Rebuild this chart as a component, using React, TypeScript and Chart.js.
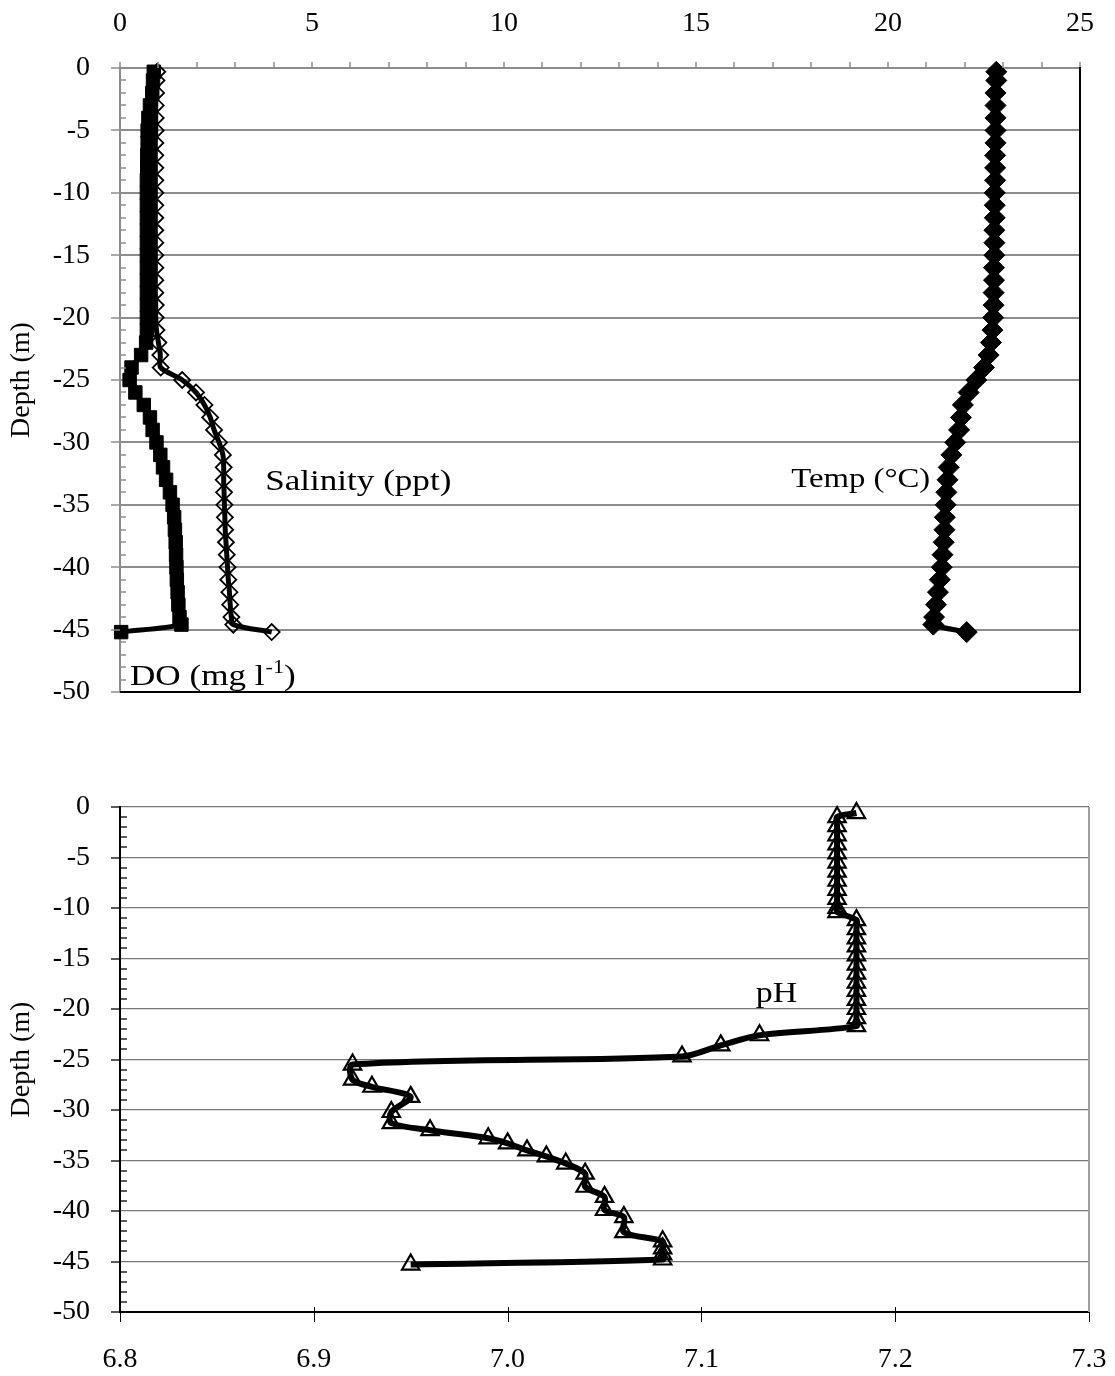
import React, { useEffect, useRef } from 'react';
import { Chart, registerables } from 'chart.js';

Chart.register(...registerables);

// ---------- Top chart: depth profiles ----------
const DEPTH = [
  -0.3, -1, -2, -3, -4, -5, -6, -7, -8, -9, -10, -11, -12, -13, -14, -15, -16, -17, -18, -19, -20,
  -21, -22, -23, -24, -25, -26, -27, -28, -29, -30, -31, -32, -33, -34, -35, -36, -37, -38, -39,
  -40, -41, -42, -43, -44, -44.6, -45.2,
];
const TEMP = [
  22.82, 22.82, 22.8, 22.8, 22.8, 22.8, 22.8, 22.79, 22.79, 22.79, 22.78, 22.78, 22.78, 22.77,
  22.77, 22.77, 22.76, 22.76, 22.75, 22.75, 22.74, 22.72, 22.68, 22.62, 22.5, 22.3, 22.1, 21.95,
  21.9, 21.85, 21.75, 21.65, 21.58, 21.55, 21.52, 21.5, 21.48, 21.47, 21.45, 21.42, 21.4, 21.35,
  21.3, 21.25, 21.2, 21.18, 22.05,
];
const SALINITY = [
  0.97, 0.95, 0.94, 0.93, 0.93, 0.93, 0.92, 0.92, 0.92, 0.92, 0.92, 0.92, 0.92, 0.92, 0.92, 0.92,
  0.92, 0.92, 0.92, 0.93, 0.93, 0.95, 1.0, 1.05, 1.06, 1.62, 1.98, 2.2, 2.35, 2.45, 2.58, 2.68,
  2.7, 2.7, 2.71, 2.72, 2.73, 2.74, 2.76, 2.78, 2.8, 2.82, 2.85, 2.87, 2.9, 2.95, 3.95,
];
const DO_MG = [
  0.88, 0.86, 0.84, 0.78, 0.74, 0.72, 0.72, 0.71, 0.71, 0.7, 0.7, 0.7, 0.7, 0.7, 0.7, 0.7, 0.7,
  0.7, 0.7, 0.7, 0.7, 0.7, 0.68, 0.55, 0.3, 0.25, 0.4, 0.62, 0.78, 0.85, 0.95, 1.05, 1.12, 1.2,
  1.3, 1.37, 1.41, 1.43, 1.45, 1.46, 1.47, 1.48, 1.5, 1.52, 1.55, 1.6, 0.03,
];

// ---------- Bottom chart: pH ----------
const PH_DEPTH = [
  -0.6, -1.0, -1.9, -2.8, -3.7, -4.6, -5.5, -6.4, -7.3, -8.2, -9.1, -10.0, -10.4, -11.2, -12.1,
  -13.0, -13.8, -14.7, -15.6, -16.5, -17.4, -18.2, -19.1, -20.0, -20.9, -21.7, -22.6, -23.6,
  -24.7, -25.5, -27.0, -27.7, -28.7, -30.2, -31.3, -32.0, -32.8, -33.3, -34.0, -34.6, -35.3,
  -36.3, -37.6, -38.6, -39.9, -40.6, -42.1, -43.0, -43.7, -44.3, -44.8, -45.3,
];
const PH = [
  7.18, 7.17, 7.17, 7.17, 7.17, 7.17, 7.17, 7.17, 7.17, 7.17, 7.17, 7.17, 7.17, 7.18, 7.18, 7.18,
  7.18, 7.18, 7.18, 7.18, 7.18, 7.18, 7.18, 7.18, 7.18, 7.18, 7.13, 7.11, 7.09, 6.92, 6.92, 6.93,
  6.95, 6.94, 6.94, 6.96, 6.99, 7.0, 7.01, 7.02, 7.03, 7.04, 7.04, 7.05, 7.05, 7.06, 7.06, 7.08,
  7.08, 7.08, 7.08, 6.95,
];

// ---------- Ticks ----------
const TOP_X_TICKS = [0, 5, 10, 15, 20, 25];
const DEPTH_TICKS = [0, -5, -10, -15, -20, -25, -30, -35, -40, -45, -50];
const PH_TICKS = [6.8, 6.9, 7.0, 7.1, 7.2, 7.3];

const FONT = '"Liberation Serif", "Times New Roman", Times, serif';
const TICK_SIZE = 28;
const NOTE_SIZE = 29;
const STRETCH = 1.17;

function pts(xs: number[], ys: number[]) {
  return xs.map((x, i) => ({ x, y: ys[i] }));
}

function drawText(ctx: CanvasRenderingContext2D, text: string, x: number, y: number, size: number, align: 'left' | 'right' = 'left') {
  ctx.save();
  ctx.font = `${size}px ${FONT}`;
  ctx.fillStyle = '#000';
  ctx.textBaseline = 'middle';
  const w = ctx.measureText(text).width * STRETCH;
  const x0 = align === 'left' ? x : x - w;
  ctx.translate(x0, y);
  ctx.scale(STRETCH, 1);
  ctx.textAlign = 'left';
  ctx.fillText(text, 0, 0);
  ctx.restore();
  return w;
}

const topDecor = {
  id: 'topDecor',
  afterDatasetsDraw(chart: any) {
    const { ctx, scales } = chart;
    const x = scales.x, y = scales.y;
    drawText(ctx, 'Salinity (ppt)', x.getPixelForValue(3.78), y.getPixelForValue(-33.2), NOTE_SIZE + 1);
    drawText(ctx, 'Temp (\u00B0C)', x.getPixelForValue(21.1), y.getPixelForValue(-33.0), NOTE_SIZE - 1, 'right');
    // DO (mg l-1) with superscript
    let px = x.getPixelForValue(0.26);
    const py = y.getPixelForValue(-48.8);
    px += drawText(ctx, 'DO (mg l', px, py, NOTE_SIZE + 1);
    px += drawText(ctx, '-1', px + 1, py - 9, 19) + 1;
    drawText(ctx, ')', px, py, NOTE_SIZE + 1);
  },
  afterDraw(chart: any) {
    const { ctx, chartArea: a, scales } = chart;
    const x = scales.x, y = scales.y;
    ctx.save();
    ctx.strokeStyle = '#8c8c8c';
    ctx.lineWidth = 1.5;
    for (let v = 0; v >= -50; v -= 1) {
      const py = Math.round(y.getPixelForValue(v));
      ctx.beginPath();
      if (v % 5 === 0) {
        ctx.moveTo(a.left - 9, py);
        ctx.lineTo(a.left, py);
      } else {
        ctx.moveTo(a.left, py);
        ctx.lineTo(a.left + 6, py);
      }
      ctx.stroke();
    }
    for (let v = 0; v <= 25; v += 1) {
      const px = Math.round(x.getPixelForValue(v));
      ctx.beginPath();
      ctx.moveTo(px, a.top - 6);
      ctx.lineTo(px, a.top);
      ctx.stroke();
    }
    ctx.strokeStyle = '#000';
    ctx.lineWidth = 2;
    ctx.beginPath();
    ctx.moveTo(a.left, a.bottom);
    ctx.lineTo(a.right, a.bottom);
    ctx.lineTo(a.right, a.top - 1);
    ctx.stroke();
    ctx.restore();
  },
};

const bottomDecor = {
  id: 'bottomDecor',
  afterDatasetsDraw(chart: any) {
    const { ctx, scales } = chart;
    drawText(ctx, 'pH', scales.x.getPixelForValue(7.128), scales.y.getPixelForValue(-18.6), NOTE_SIZE);
  },
  afterDraw(chart: any) {
    const { ctx, chartArea: a, scales } = chart;
    const x = scales.x, y = scales.y;
    ctx.save();
    ctx.strokeStyle = '#000';
    ctx.lineWidth = 1.3;
    for (let v = 0; v >= -50; v -= 1) {
      const py = Math.round(y.getPixelForValue(v));
      ctx.beginPath();
      if (v % 5 === 0) {
        ctx.moveTo(a.left - 9, py);
        ctx.lineTo(a.left, py);
      } else {
        ctx.moveTo(a.left, py);
        ctx.lineTo(a.left + 7, py);
      }
      ctx.stroke();
    }
    ctx.lineWidth = 1;
    for (const v of PH_TICKS) {
      const px = Math.round(x.getPixelForValue(v)) + 0.5;
      ctx.beginPath();
      ctx.moveTo(px, a.bottom - 5);
      ctx.lineTo(px, a.bottom + 10);
      ctx.stroke();
    }
    ctx.strokeStyle = '#a0a0a0';
    ctx.lineWidth = 2;
    ctx.beginPath();
    ctx.moveTo(a.right, a.top);
    ctx.lineTo(a.right, a.bottom);
    ctx.stroke();
    ctx.restore();
  },
};

const tickFont = { family: FONT, size: TICK_SIZE };

function zeroPad(s: any) {
  s.paddingLeft = 0;
  s.paddingRight = 0;
  s.paddingTop = 0;
  s.paddingBottom = 0;
}

function depthAxis(width: number, gridColor: string, gridWidth: number, borderColor: string) {
  return {
    type: 'linear',
    position: 'left',
    min: -50,
    max: 0,
    afterBuildTicks: (s: any) => {
      s.ticks = DEPTH_TICKS.map((v) => ({ value: v }));
    },
    afterFit: (s: any) => {
      s.width = width;
      zeroPad(s);
    },
    grid: { color: gridColor, lineWidth: gridWidth, drawTicks: false },
    border: { display: true, color: borderColor, width: 2 },
    ticks: { font: tickFont, color: '#000', padding: 30, autoSkip: false, callback: (v: any) => String(v) },
    title: {
      display: true,
      text: 'Depth (m)',
      font: { family: FONT, size: TICK_SIZE },
      color: '#000',
      padding: { top: 5, bottom: 0 },
    },
  };
}

function topConfig(): any {
  return {
    type: 'scatter',
    data: {
      datasets: [
        {
          label: 'Temp',
          data: pts(TEMP, DEPTH),
          showLine: true,
          borderColor: '#000',
          borderWidth: 5,
          tension: 0.3,
          pointStyle: 'rectRot',
          pointRadius: 10.5,
          pointBackgroundColor: '#000',
          pointBorderColor: '#000',
          pointBorderWidth: 1,
          clip: false,
        },
        {
          label: 'DO',
          data: pts(DO_MG, DEPTH),
          showLine: true,
          borderColor: '#000',
          borderWidth: 5,
          tension: 0.3,
          pointStyle: 'rect',
          pointRadius: 9.5,
          pointBackgroundColor: '#000',
          pointBorderColor: '#000',
          pointBorderWidth: 1,
          clip: false,
        },
        {
          label: 'Salinity',
          data: pts(SALINITY, DEPTH),
          showLine: true,
          borderColor: '#000',
          borderWidth: 5,
          tension: 0.3,
          pointStyle: 'rectRot',
          pointRadius: 8,
          pointBackgroundColor: 'rgba(0,0,0,0)',
          pointBorderColor: '#000',
          pointBorderWidth: 1.8,
          clip: false,
        },
      ],
    },
    options: {
      animation: false,
      responsive: false,
      devicePixelRatio: 1,
      layout: { padding: { left: 0, right: 35, top: 0, bottom: 28 } },
      plugins: { legend: { display: false }, tooltip: { enabled: false } },
      scales: {
        x: {
          type: 'linear',
          position: 'top',
          min: 0,
          max: 25,
          afterBuildTicks: (s: any) => {
            s.ticks = TOP_X_TICKS.map((v) => ({ value: v }));
          },
          afterFit: (s: any) => {
            s.height = 68;
            zeroPad(s);
          },
          grid: { display: false, drawTicks: false },
          border: { display: true, color: '#8c8c8c', width: 2 },
          ticks: { font: tickFont, color: '#000', padding: 28, maxRotation: 0, autoSkip: false, callback: (v: any) => String(v) },
        },
        y: depthAxis(120, '#8c8c8c', 2, '#8c8c8c'),
      },
    },
    plugins: [topDecor],
  };
}

function bottomConfig(): any {
  return {
    type: 'scatter',
    data: {
      datasets: [
        {
          label: 'pH',
          data: pts(PH, PH_DEPTH),
          showLine: true,
          borderColor: '#000',
          borderWidth: 6,
          tension: 0.3,
          pointStyle: 'triangle',
          pointRadius: 10,
          pointBackgroundColor: 'rgba(0,0,0,0)',
          pointBorderColor: '#000',
          pointBorderWidth: 2.2,
          clip: false,
        },
      ],
    },
    options: {
      animation: false,
      responsive: false,
      devicePixelRatio: 1,
      layout: { padding: { left: 0, right: 26, top: 87, bottom: 0 } },
      plugins: { legend: { display: false }, tooltip: { enabled: false } },
      scales: {
        x: {
          type: 'linear',
          position: 'bottom',
          min: 6.8,
          max: 7.3,
          afterBuildTicks: (s: any) => {
            s.ticks = PH_TICKS.map((v) => ({ value: v }));
          },
          afterFit: (s: any) => {
            s.height = 64;
            zeroPad(s);
          },
          grid: { display: false, drawTicks: false },
          border: { display: true, color: '#000', width: 2 },
          ticks: { font: tickFont, color: '#000', padding: 31, maxRotation: 0, autoSkip: false, callback: (v: any) => Number(v).toFixed(1) },
        },
        y: depthAxis(120, '#777777', 1.2, '#000'),
      },
    },
    plugins: [bottomDecor],
  };
}

export default function App() {
  const topRef = useRef<HTMLCanvasElement>(null);
  const botRef = useRef<HTMLCanvasElement>(null);
  useEffect(() => {
    document.body.style.margin = '0';
    const c1 = new Chart(topRef.current as HTMLCanvasElement, topConfig());
    const c2 = new Chart(botRef.current as HTMLCanvasElement, bottomConfig());
    return () => {
      c1.destroy();
      c2.destroy();
    };
  }, []);
  return (
    <div style={{ width: 1115, height: 1376, background: '#fff' }}>
      <canvas ref={topRef} width={1115} height={720} style={{ display: 'block', width: 1115, height: 720 }} />
      <canvas ref={botRef} width={1115} height={656} style={{ display: 'block', width: 1115, height: 656 }} />
    </div>
  );
}
